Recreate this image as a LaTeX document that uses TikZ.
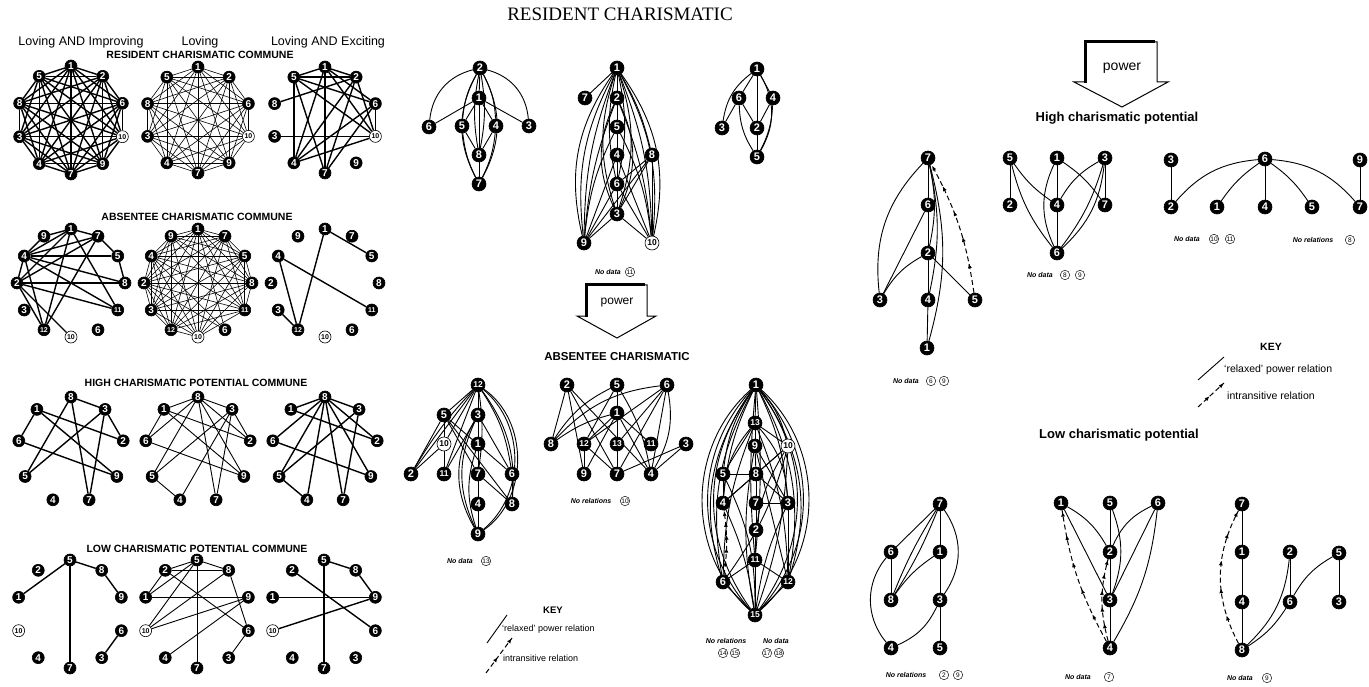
\documentclass[tikz,border=0pt]{standalone}
\usepackage{fontspec}
\setmainfont{Liberation Sans}
\newfontfamily\tms{Liberation Serif}
\usetikzlibrary{arrows.meta,decorations.markings}
\pgfdeclarelayer{bg}
\pgfsetlayers{bg,main}
\newcommand{\mkring}[7]{%
  \foreach \lab [count=\i from 0] in {#7}{%
    \ifnum\lab=10\relax\tikzset{cur/.style={#6,fill=white,text=black}}\else\tikzset{cur/.style={#6}}\fi
    \node[cur] (#1\lab) at ({#2+#4*cos(90-\i*#5)},{#3-#4*sin(90-\i*#5)}) {\ifnum\lab>9\relax\fontsize{7}{7}\selectfont\fi\lab};
  }}
\newcommand{\mkpts}[3]{%
  \foreach \lab/\xx/\yy in {#3}{%
    \ifnum\lab=10\relax\tikzset{cur/.style={#2,fill=white,text=black}}\else\tikzset{cur/.style={#2}}\fi
    \node[cur] (#1\lab) at (\xx,\yy) {\ifnum\lab>9\relax\fontsize{8.5}{8.5}\selectfont\fi\lab};
  }}
\newcommand{\mkedges}[3]{\begin{pgfonlayer}{bg}\foreach \a/\b in {#3}{\draw[#2] (#1\a) -- (#1\b);}\end{pgfonlayer}}
\newcommand{\mkbend}[3]{\begin{pgfonlayer}{bg}\foreach \a/\b/\d in {#3}{\draw[#2] (#1\a) to[bend left=\d] (#1\b);}\end{pgfonlayer}}
\newcommand{\mkall}[3]{\begin{pgfonlayer}{bg}\foreach \a in {#3}{\foreach \b in {#3}{\ifnum\a<\b\relax\draw[#2] (#1\a) -- (#1\b);\fi}}\end{pgfonlayer}}
\tikzset{
  nd/.style={circle,fill=black,draw=black,line width=0.6pt,text=white,inner sep=0pt,minimum size=12pt,font=\fontsize{10}{10}\selectfont\bfseries},
  bn/.style={nd,minimum size=14pt,font=\fontsize{11}{11}\selectfont\bfseries},
  thk/.style={line width=1.4pt},
  thn/.style={line width=0.6pt},
  med/.style={line width=0.9pt},
  ia/.style={line width=1pt,dash pattern=on 5pt off 3pt,
    postaction={decorate,decoration={markings,
      mark=at position 0.22 with {\arrow{Latex[length=5pt,width=4pt]}},
      mark=at position 0.42 with {\arrow{Latex[length=5pt,width=4pt]}},
      mark=at position 0.62 with {\arrow{Latex[length=5pt,width=4pt]}},
      mark=at position 0.82 with {\arrow{Latex[length=5pt,width=4pt]}},
      mark=at position 0.99 with {\arrow{Latex[length=5pt,width=4pt]}}}}},
  iak/.style={line width=1pt,dash pattern=on 5pt off 3pt,
    postaction={decorate,decoration={markings,
      mark=at position 0.45 with {\arrow{Latex[length=5pt,width=4pt]}},
      mark=at position 0.99 with {\arrow{Latex[length=5pt,width=4pt]}}}}},
  lab12/.style={font=\fontsize{12.5}{12.5}\selectfont,inner sep=0pt},
  hd/.style={font=\fontsize{10.5}{10.5}\selectfont\bfseries,inner sep=0pt},
  hdb/.style={font=\fontsize{11.5}{11.5}\selectfont\bfseries,inner sep=0pt},
  hdc/.style={font=\fontsize{13}{13}\selectfont\bfseries,inner sep=0pt},
  itl/.style={font=\fontsize{7}{7}\selectfont\bfseries\itshape,inner sep=0pt},
  cn/.style={circle,draw,line width=0.45pt,inner sep=0pt,minimum size=9.5pt,font=\fontsize{6.5}{6.5}\selectfont},
  kyb/.style={font=\fontsize{9.5}{9.5}\selectfont\bfseries,inner sep=0pt},
  kyt/.style={font=\fontsize{9}{9}\selectfont,anchor=west,inner sep=0pt},
  kytb/.style={font=\fontsize{10.5}{10.5}\selectfont,anchor=west,inner sep=0pt},
}
\begin{document}
\begin{tikzpicture}[x=1pt,y=-1pt]
\useasboundingbox (0,0) rectangle (1369,687);
\begin{pgfonlayer}{bg}
\fill[white] (0,0) rectangle (1369,687);
\end{pgfonlayer}

\node[font=\tms\fontsize{19}{19}\selectfont,inner sep=0pt] (title) at (620,14) {RESIDENT CHARISMATIC};

% ---------- left column headings
\node[lab12] (h1) at (81,42) {Loving AND Improving};
\node[lab12] (h2) at (200,42) {Loving};
\node[lab12] (h3) at (328,42) {Loving AND Exciting};
\node[hd] (h4) at (200,55) {RESIDENT CHARISMATIC COMMUNE};
\node[hd] (h5) at (197,217) {ABSENTEE CHARISMATIC COMMUNE};
\node[hd] (h6) at (196,383) {HIGH CHARISMATIC POTENTIAL COMMUNE};
\node[hd] (h7) at (197,549) {LOW CHARISMATIC POTENTIAL COMMUNE};

% ---------- row 1
\mkring{pa}{71}{120}{54}{36}{nd}{1,2,6,10,9,7,4,3,8,5}
\mkring{pb}{198}{120}{53}{36}{nd}{1,2,6,10,9,7,4,3,8,5}
\mkring{pc}{325}{120}{53}{36}{nd}{1,2,6,10,9,7,4,3,8,5}
\mkall{pa}{thk}{1,...,10}
\mkall{pb}{thn}{1,...,10}
\mkedges{pc}{thk}{1/5,1/2,1/6,1/10,1/7,1/4,5/2,5/10,5/4,5/7,8/2,3/10,4/2,4/6,4/10,7/2,7/6,2/10,6/10,5/6}

% ---------- row 2
\mkring{qa}{71}{283}{54}{30}{nd}{1,7,5,8,11,6,10,12,3,2,4,9}
\mkring{qb}{198}{283}{54}{30}{nd}{1,7,5,8,11,6,10,12,3,2,4,9}
\mkring{qc}{325}{283}{54}{30}{nd}{1,7,5,8,11,6,10,12,3,2,4,9}
\mkedges{qa}{thk}{1/9,1/7,1/4,1/2,1/11,1/12,4/5,4/8,4/11,4/7,4/2,4/12,2/8,2/11,2/7,2/10,2/12,7/5,7/12,5/8,9/4}
\mkall{qb}{thn}{1,2,3,4,5,7,8,9,10,11,12}
\mkedges{qb}{thn}{6/1,6/4,6/2}
\mkedges{qc}{thk}{1/5,1/12,4/11,4/12,3/12}

% ---------- row 3
\mkring{ra}{71}{450}{53}{40}{nd}{8,3,2,9,7,4,5,6,1}
\mkring{rb}{198}{450}{53}{40}{nd}{8,3,2,9,7,4,5,6,1}
\mkring{rc}{325}{450}{53}{40}{nd}{8,3,2,9,7,4,5,6,1}
\mkedges{ra}{thk}{8/3,8/5,8/7,1/6,1/2,1/9,3/2,3/5,3/7,6/9}
\mkedges{rb}{med}{8/1,8/3,8/6,8/5,8/7,8/9,8/2,1/6,1/2,1/9,3/2,3/5,3/4,3/7,6/9,5/4}
\mkedges{rc}{thk}{8/1,8/6,8/5,8/4,8/7,8/9,8/2,8/3,1/2,6/9,5/3,5/4,3/7}

% ---------- row 4
\mkring{sa}{70}{614}{54}{36}{nd}{5,8,9,6,3,7,4,10,1,2}
\mkring{sb}{197}{614}{54}{36}{nd}{5,8,9,6,3,7,4,10,1,2}
\mkring{sc}{324}{614}{54}{36}{nd}{5,8,9,6,3,7,4,10,1,2}
\mkedges{sa}{thk}{5/1,5/8,5/7,8/9,6/3}
\mkedges{sb}{med}{5/2,5/8,5/1,5/10,5/7,2/8,2/1,2/6,1/9,8/10,8/6,9/10,9/4,6/3}
\mkedges{sc}{thk}{5/8,5/7,1/9,2/6,10/9,8/9}

% ---------- middle: resident
\mkpts{ma}{bn}{2/480/68,1/479/98,6/429/127,5/462/126,4/496/126,3/529/126,8/479/155,7/479/184}
\mkedges{ma}{med}{2/1,1/8,8/7,1/6,1/3,1/5,1/4,5/8,4/8}
\mkbend{ma}{med}{2/6/-35,2/3/35,2/5/-12,2/4/12,2/7/-28,2/7/28,2/8/-10,2/8/10,5/7/-10,4/7/10}

\mkpts{mb}{bn}{1/617/68,7/585/98,2/617/98,5/617/127,4/617/155,8/652/155,6/617/184,3/617/214,9/584/243,10/652/243}
\mkedges{mb}{med}{1/7,1/2,2/5,5/4,4/6,6/3,9/3,9/6,9/4,10/3,10/6,10/4,8/6,8/3,8/9,8/10}
\mkbend{mb}{med}{1/9/-24,1/9/-17,1/9/-10,1/10/24,1/10/17,1/10/10,1/8/8,1/3/-18,1/3/18,1/6/-12,1/6/12,2/3/-25,2/3/25,9/5/10,9/2/8,10/5/-10,10/2/-8}
\node[itl] (nd11) at (608,272) {No data};
\node[cn] (nd11c) at (630,272) {11};

\mkpts{mc}{bn}{1/757/69,6/739/98,4/773/98,3/722/128,2/757/128,5/757/157}
\mkedges{mc}{med}{1/6,6/3,1/2,1/4,6/2,4/2,2/5}
\mkbend{mc}{med}{1/3/-22,6/5/-15,4/5/12,1/5/30}

% power arrow (middle)
\draw[line width=1pt] (586,285) -- (647,285) -- (647,316) -- (656,316) -- (617,338) -- (577,316) -- (586,316) -- cycle;
\draw[line width=3pt] (586,317) -- (586,285) -- (645,285);
\node[font=\fontsize{12}{12}\selectfont] (pw1) at (617,303) {power};

\node[hdb] (habs) at (617,357) {ABSENTEE CHARISMATIC};

% ---------- middle: absentee
\mkpts{md}{bn}{12/478/385,5/444/415,3/478/415,10/444/444,1/478/444,2/411/474,11/444/474,7/478/474,6/512/474,4/478/504,8/512/504,9/478/534}
\mkedges{md}{med}{12/3,3/1,1/7,7/4,4/9,12/5,12/10,12/11,12/2,5/2,5/10,10/11,10/2,5/7,5/6,5/8,3/11,3/6,6/8,7/8}
\mkbend{md}{med}{12/2/-6,12/7/8,12/6/12,12/8/20,12/9/55,12/9/50,3/9/-25,3/9/-30,1/9/-18}
\node[itl] (nd13) at (460,561) {No data};
\node[cn] (nd13c) at (486,561) {13};

\mkpts{me}{bn}{2/567/385,5/617/385,6/667/385,1/617/413,8/551/444,12/584/444,13/617/444,11/651/444,3/686/444,9/584/474,7/617/474,4/651/474}
\mkedges{me}{med}{2/8,2/9,2/7,2/4,5/12,5/7,5/1,6/12,6/13,6/7,6/4,1/12,1/13,1/7,1/9,1/11,1/4,12/9,12/7,3/7,3/4}
\mkbend{me}{med}{5/8/-15,5/4/10,6/8/-20,6/4/20,1/8/-10}
\node[itl] (nr10) at (591,501) {No relations};
\node[cn] (nr10c) at (625,501) {10};

% ---------- big ellipse graph
\mkpts{mf}{bn}{1/756/385,13/755/423,9/755/446,10/788/446,5/723/474,8/756/474,4/723/503,7/756/503,3/788/503,2/756/530,11/755/560,6/723/582,12/788/582,15/755/615}
\mkedges{mf}{med}{1/13,13/9,9/8,8/7,7/2,2/11,11/15,13/5,13/10,10/8,10/4,5/4,5/8,4/8,3/12,3/7,6/15,12/15,6/11,11/12,9/3,8/3,9/12}
\mkbend{mf}{med}{1/15/-48,1/15/-42,1/15/-36,1/15/48,1/15/42,1/15/36,1/6/-26,1/6/-19,1/12/26,1/12/19,1/5/-13,1/4/-10,1/10/13,1/3/10,1/11/-5,1/11/5,13/4/-18,13/3/18,13/6/-10,13/12/10,15/9/10,15/10/-8,15/5/-13,15/4/-8,15/3/8,6/10/-10,11/10/15}
\draw[ia] (mf6) to[bend right=8] (mf4);
\node[itl] (nrel14) at (726,641) {No relations};
\node[itl] (ndat17) at (776,641) {No data};
\node[cn] (c14) at (723,653) {14};
\node[cn] (c15) at (735,653) {15};
\node[cn] (c17) at (767,653) {17};
\node[cn] (c18) at (779,653) {18};

% middle key
\node[kyb] (key1) at (553,610) {KEY};
\coordinate (k1a) at (487,643); \coordinate (k1b) at (507,615);
\draw[med] (k1a) -- (k1b);
\coordinate (k2a) at (486,673); \coordinate (k2b) at (512,638);
\draw[iak] (k2a) -- (k2b);
\node[kyt] (k1t) at (502,629) {`relaxed' power relation};
\node[kyt] (k2t) at (503,658) {intransitive relation};

% ---------- right: power arrow + high charismatic
\draw[line width=1pt] (1085,42) -- (1157,42) -- (1157,82) -- (1168,82) -- (1122,107) -- (1074,82) -- (1085,82) -- cycle;
\draw[line width=3pt] (1085,83) -- (1085,42) -- (1155,42);
\node[font=\fontsize{14}{14}\selectfont] (pw2) at (1122,68) {power};
\node[hdc] (hhigh) at (1117,118) {High charismatic potential};

\mkpts{ha}{bn}{7/928/158,6/928/205,2/928/253,3/880/300,4/928/300,5/975/300,1/927/348}
\mkedges{ha}{med}{7/6,6/2,2/4,4/1,6/3,2/5}
\mkbend{ha}{med}{7/3/-25,2/3/-15,7/2/12,7/4/12,7/1/15}
\draw[ia] (ha5) to[bend right=10] (ha7);
\node[itl] (nd69) at (906,381) {No data};
\node[cn] (c6a) at (931,381) {6};
\node[cn] (c9a) at (944,381) {9};

\mkpts{hb}{bn}{5/1010/158,1/1057/158,3/1105/158,2/1010/205,4/1057/205,7/1105/205,6/1057/253}
\mkedges{hb}{med}{5/2,1/4,4/6,3/7}
\mkbend{hb}{med}{5/4/-10,5/6/-12,1/6/-25,1/7/10,3/4/-15,3/6/10,3/6/20}
\node[itl] (nd89) at (1040,275) {No data};
\node[cn] (c8b) at (1065,275) {8};
\node[cn] (c9b) at (1080,275) {9};

\mkpts{hc}{bn}{3/1171/160,6/1265/159,9/1360/160,2/1171/207,1/1217/207,4/1265/207,5/1312/207,7/1360/207}
\mkedges{hc}{med}{3/2,6/4,9/7}
\mkbend{hc}{med}{6/2/-22,6/1/-10,6/5/10,6/7/22}
\node[itl] (nd1011) at (1187,239) {No data};
\node[cn] (c10c) at (1214,239) {10};
\node[cn] (c11c) at (1230,239) {11};
\node[itl] (nr8) at (1313,240) {No relations};
\node[cn] (c8c) at (1350,240) {8};

% right key
\node[kyb,font=\fontsize{10.5}{10.5}\selectfont\bfseries] (key2) at (1271,347) {KEY};
\coordinate (k3a) at (1198,380); \coordinate (k3b) at (1224,357);
\draw[med] (k3a) -- (k3b);
\coordinate (k4a) at (1198,407); \coordinate (k4b) at (1224,383);
\draw[iak] (k4a) -- (k4b);
\node[kytb] (k3t) at (1224,370) {`relaxed' power relation};
\node[kytb] (k4t) at (1227,396) {intransitive relation};

% ---------- low charismatic
\node[hdc] (hlow) at (1119,435) {Low charismatic potential};

\mkpts{la}{bn}{7/940/504,6/891/552,1/940/552,8/891/600,3/940/600,4/891/648,5/940/648}
\mkedges{la}{med}{7/6,7/1,1/3,3/5,6/8}
\mkbend{la}{med}{7/8/-5,7/8/5,7/3/35,6/4/-40,8/1/10,4/3/-20}
\node[itl] (nr29) at (906,675) {No relations};
\node[cn] (c2l) at (944,675) {2};
\node[cn] (c9l) at (958,675) {9};

\mkpts{lb}{bn}{1/1061/503,5/1110/503,6/1158/503,2/1110/552,3/1110/600,4/1110/648}
\mkedges{lb}{med}{1/3,5/2,2/3,3/4,6/3}
\mkbend{lb}{med}{1/2/15,5/3/20,6/2/-20,6/4/12}
\draw[ia] (lb4) to[bend left=10] (lb1);
\draw[ia] (lb4) to[bend left=15] (lb2);
\node[itl] (nd7l) at (1078,677) {No data};
\node[cn] (c7l) at (1109,677) {7};

\mkpts{lc}{bn}{7/1242/504,1/1242/552,2/1290/552,5/1339/553,4/1242/602,6/1290/602,3/1339/602,8/1242/650}
\mkedges{lc}{med}{7/1,1/4,4/8,2/6,5/3}
\mkbend{lc}{med}{8/2/-20,8/6/-12,6/5/15}
\draw[ia] (lc8) to[bend left=28] (lc7);
\node[itl] (nd9l) at (1240,678) {No data};
\node[cn] (c9m) at (1267,678) {9};
\end{tikzpicture}
\end{document}
